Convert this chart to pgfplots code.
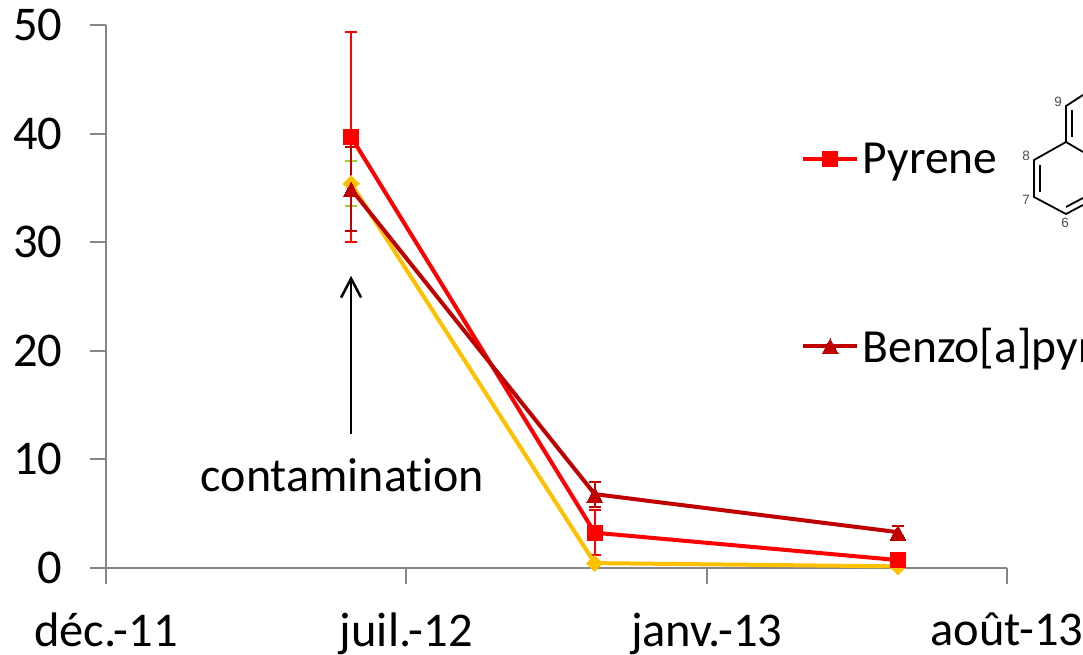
\documentclass[border=0pt]{standalone}
\usepackage{fontspec}
\setmainfont{Carlito}
\newfontfamily\molfont{Liberation Sans}
\usepackage{pgfplots}
\pgfplotsset{compat=1.18}
\usetikzlibrary{arrows.meta}
\definecolor{axisgray}{HTML}{868686}
\definecolor{pyr}{HTML}{FF0000}
\definecolor{bap}{HTML}{C00000}
\definecolor{third}{HTML}{FFC000}
\definecolor{thirderr}{HTML}{9ACD32}
\newcommand{\bigfont}{\fontsize{48.5}{52}\selectfont}
\begin{document}
\begin{tikzpicture}[x=1pt,y=1pt]
\path[use as bounding box] (0,0) rectangle (1083,654);
\begin{axis}[
    at={(106pt,86pt)},
    anchor=origin,
    scale only axis,
    width=901pt, height=543pt,
    xmin=0, xmax=636,
    ymin=0, ymax=50,
    clip=false,
    axis x line*=bottom,
    axis y line*=left,
    axis line style={axisgray, line width=2pt, -},
    xtick={0,212,424,636},
    xticklabels={déc.-11,juil.-12,janv.-13,août-13},
    ytick={0,10,20,30,40,50},
    tick style={axisgray, line width=2pt},
    tick align=outside,
    major tick length=16pt,
    /pgf/number format/assume math mode=true,
    tick label style={font=\bigfont},
    yticklabel style={xshift=-24pt},
    xticklabel style={yshift=-29pt, inner ysep=0pt},
    legend style={at={(695pt,427pt)}, anchor=north west, draw=none, fill=none,
        inner sep=0pt, row sep=148.5pt, font=\fontsize{47.5}{52}\selectfont,
        /tikz/every odd column/.append style={column sep=1.5pt}},
    legend cell align=left,
    legend image code/.code={
        \draw[mark repeat=2, mark phase=2, #1] plot coordinates {(0pt,0pt) (27pt,0pt) (54pt,0pt)};
    },
]
% error bars first, the marks sit on top of them
\addplot[forget plot, draw=none,
    error bars/.cd, y dir=both, y explicit,
    error bar style={thirderr, line width=2pt},
    error mark options={rotate=90, mark size=6pt, line width=2pt, thirderr}]
    coordinates {(173,35.4) +- (0,2.1)};
\addplot[forget plot, draw=none,
    error bars/.cd, y dir=both, y explicit,
    error bar style={pyr, line width=2pt},
    error mark options={rotate=90, mark size=6pt, line width=2pt, pyr}]
    coordinates {(173,39.7) +- (0,9.7) (345,3.25) +- (0,2.05) (559,0.73) +- (0,0.2)};
\addplot[forget plot, draw=none,
    error bars/.cd, y dir=both, y explicit,
    error bar style={bap, line width=2pt},
    error mark options={rotate=90, mark size=6pt, line width=2pt, bap}]
    coordinates {(173,34.9) +- (0,3.9) (345,6.8) +- (0,1.15) (559,3.3) +- (0,0.6)};
\addplot[forget plot, third, line width=4pt, mark=diamond*,
    mark options={fill=third, draw=third, line width=0pt, mark size=8pt, xscale=1.33}]
    coordinates {(173,35.4) (345,0.45) (559,0.15)};
\addplot[pyr, line width=4pt, mark=square*,
    mark options={fill=pyr, draw=pyr, line width=0pt, mark size=7.5pt}]
    coordinates {(173,39.7) (345,3.25) (559,0.73)};
\addlegendentry{Pyrene}
\addplot[bap, line width=4pt, mark=triangle*,
    mark options={fill=bap, draw=bap, line width=0pt, mark size=9pt, yshift=-3pt, yscale=1.1}]
    coordinates {(173,34.9) (345,6.8) (559,3.3)};
\addlegendentry{Benzo[a]pyrene}
\draw[-{Straight Barb[length=19pt,width=20pt,line width=2.5pt]}, black, line width=2.8pt]
    (axis cs:173,12.3) -- (axis cs:173,26.9);
\node[font=\fontsize{48}{52}\selectfont, anchor=base] at (axis cs:167,7) {contaminat\kern0pt ion};
\end{axis}
% pyrene structure, cut by the right edge as in the slide
\begin{scope}[line width=1.8pt, black]
\draw (1083,559) -- (1066,548) -- (1066,512) -- (1034,494) -- (1034,457) -- (1066,440) -- (1083,449);
\draw (1066,512) -- (1083,502);
\draw (1040,489) -- (1040,462);
\draw (1066,447) -- (1083,456);
\draw (1072,544) -- (1072,517);
\end{scope}
\begin{scope}[font=\molfont\fontsize{13.5}{15}\selectfont, text=black!70]
\node at (1058,552) {9};
\node at (1026,498) {8};
\node at (1026,454) {7};
\node at (1065,431) {6};
\end{scope}
\end{tikzpicture}
\end{document}
